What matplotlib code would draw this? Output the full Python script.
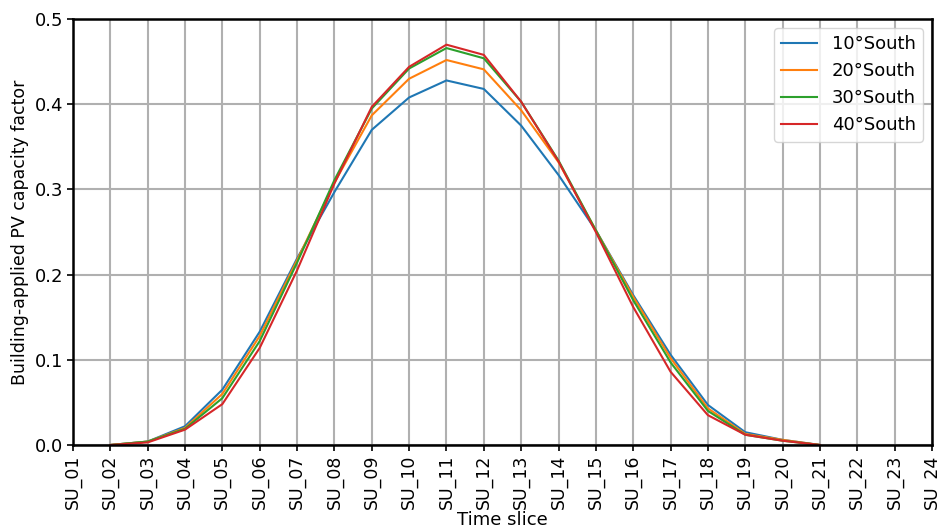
import numpy as np
import matplotlib
matplotlib.use("Agg")
import matplotlib.pyplot as plt

time_slices = [f"SU_{i:02d}" for i in range(1, 25)]
nan = np.nan

south_10 = [nan, 0.000, 0.004, 0.022, 0.065, 0.133, 0.219, 0.297, 0.370, 0.408, 0.428, 0.418,
            0.375, 0.317, 0.252, 0.176, 0.106, 0.047, 0.015, 0.006, 0.000, nan, nan, nan]
south_20 = [nan, 0.000, 0.004, 0.020, 0.060, 0.128, 0.217, 0.308, 0.387, 0.430, 0.452, 0.441,
            0.393, 0.332, 0.252, 0.174, 0.102, 0.043, 0.013, 0.006, 0.000, nan, nan, nan]
south_30 = [nan, 0.000, 0.004, 0.019, 0.055, 0.122, 0.214, 0.311, 0.395, 0.442, 0.466, 0.454,
            0.403, 0.334, 0.252, 0.170, 0.097, 0.040, 0.012, 0.005, 0.000, nan, nan, nan]
south_40 = [nan, 0.000, 0.003, 0.018, 0.048, 0.114, 0.205, 0.307, 0.397, 0.444, 0.470, 0.458,
            0.403, 0.333, 0.250, 0.162, 0.086, 0.035, 0.012, 0.005, 0.000, nan, nan, nan]

series = {
    "10°South": south_10,
    "20°South": south_20,
    "30°South": south_30,
    "40°South": south_40,
}

fig = plt.figure(figsize=(9.38, 5.31), dpi=100)
ax = fig.add_axes([0.0778, 0.162, 0.9158, 0.802])

x = np.arange(len(time_slices))
for name, vals in series.items():
    ax.plot(x, vals, label=name, linewidth=1.5)

ax.set_xlim(0, len(time_slices) - 1)
ax.set_ylim(0, 0.5)
ax.set_xticks(x)
ax.set_xticklabels(time_slices, rotation=90, fontsize=12.5)
ax.set_yticks([0.0, 0.1, 0.2, 0.3, 0.4, 0.5])
ax.set_yticklabels(["0.0", "0.1", "0.2", "0.3", "0.4", "0.5"], fontsize=13)
ax.tick_params(axis="both", length=4, width=1.2, pad=3)
ax.grid(True, color="#b0b0b0", linewidth=1.5)
for sp in ax.spines.values():
    sp.set_linewidth(1.8)
ax.set_xlabel("Time slice", fontsize=13, labelpad=1)
ax.set_ylabel("Building-applied PV capacity factor", fontsize=12.5)
ax.legend(loc="upper right", fontsize=13)

fig.savefig("out.png", dpi=100)
